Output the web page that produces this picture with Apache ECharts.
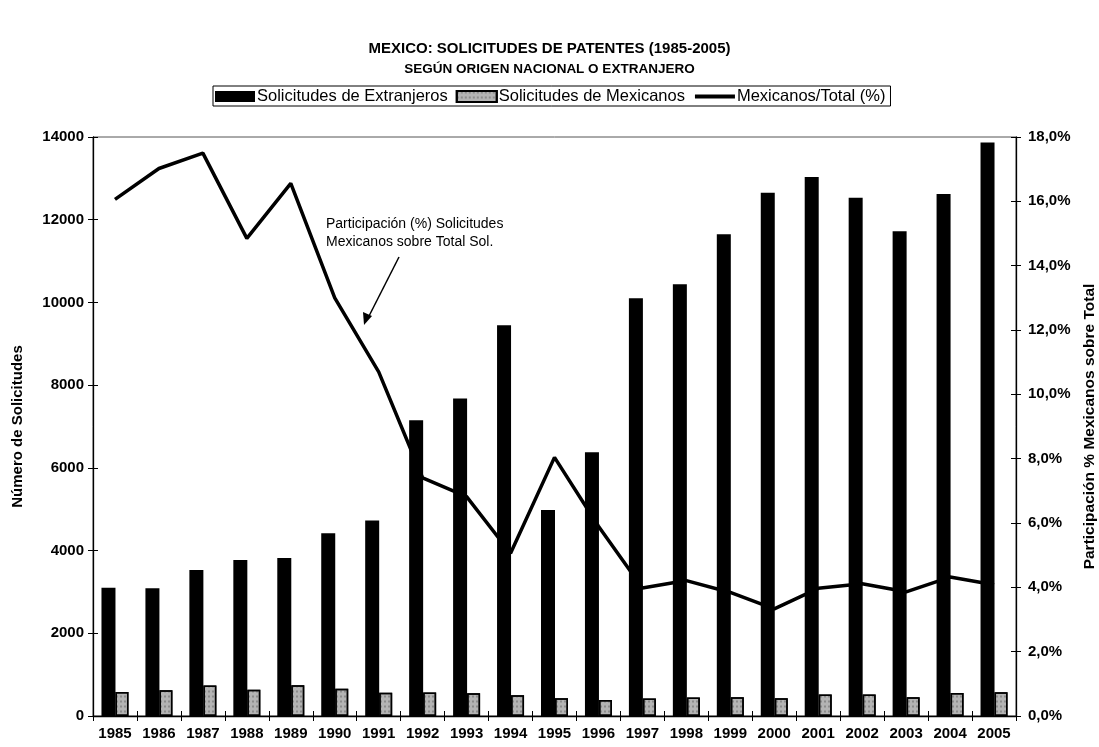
<!DOCTYPE html>
<html>
<head>
<meta charset="utf-8">
<script src="https://cdn.jsdelivr.net/npm/echarts@6/dist/echarts.min.js"></script>
<style>
  html, body { margin: 0; padding: 0; background: #fff; }
  #chart { width: 1099px; height: 747px; }
</style>
</head>
<body>
<div id="chart"></div>
<script>
// Years on the category axis
const years = ['1985','1986','1987','1988','1989','1990','1991','1992','1993','1994','1995',
               '1996','1997','1998','1999','2000','2001','2002','2003','2004','2005'];

// Patent applications filed by foreign applicants
const extranjeros = [3100, 3090, 3530, 3770, 3820, 4420, 4730, 7150, 7680, 9450, 4980,
                     6380, 10100, 10440, 11650, 12650, 13030, 12530, 11720, 12620, 13870];

// Patent applications filed by Mexican applicants
const mexicanos = [580, 625, 740, 635, 745, 660, 565, 568, 553, 500, 432,
                   388, 425, 450, 452, 432, 520, 518, 455, 555, 575];

// Share of Mexican applications in the total (%)
const participacion = [16.06, 17.02, 17.50, 14.85, 16.56, 13.0, 10.7, 7.4, 6.82, 5.06, 8.04,
                       5.9, 3.98, 4.21, 3.84, 3.33, 3.97, 4.11, 3.86, 4.32, 4.08];

// Axis ticks
const leftTicks = { min: 0, max: 14000, interval: 2000 };
const rightTicks = { min: 0, max: 18, interval: 2 };

const FONT = '"Liberation Sans", Arial, sans-serif';
const TICK_FONT = { fontFamily: FONT, fontWeight: 'bold', fontSize: 15, color: '#000' };

const chart = echarts.init(document.getElementById('chart'), null, { renderer: 'canvas' });

chart.setOption({
  backgroundColor: '#ffffff',
  animation: false,
  textStyle: { fontFamily: FONT, color: '#000' },
  title: {
    text: 'MEXICO: SOLICITUDES DE PATENTES (1985-2005)',
    subtext: 'SEGÚN ORIGEN NACIONAL O EXTRANJERO',
    left: 'center',
    top: 36,
    itemGap: 6,
    textStyle: { fontFamily: FONT, fontWeight: 'bold', fontSize: 15, color: '#000' },
    subtextStyle: { fontFamily: FONT, fontWeight: 'bold', fontSize: 13.5, color: '#000' }
  },
  legend: {
    left: 213,
    top: 86,
    padding: [2, 5, 1, 2],
    itemGap: 8,
    itemWidth: 40,
    itemHeight: 11,
    borderColor: '#000',
    borderWidth: 1,
    textStyle: { fontFamily: FONT, fontSize: 16.5, color: '#000', padding: [0, 0, 0, -3] },
    data: [
      { name: 'Solicitudes de Extranjeros', icon: 'rect' },
      { name: 'Solicitudes de Mexicanos', icon: 'rect' },
      { name: 'Mexicanos/Total (%)', itemStyle: { opacity: 0 }, lineStyle: { width: 4 } }
    ]
  },
  grid: {
    left: 93, right: 83, top: 137, bottom: 31,
    outerBoundsMode: 'none',
    containLabel: false,
    show: true, borderColor: '#555', borderWidth: 1
  },
  xAxis: [
    {
      type: 'category',
      data: years,
      axisLine: { lineStyle: { color: '#000', width: 1.3 } },
      axisTick: { show: true, length: 5, lineStyle: { color: '#000' } },
      axisLabel: Object.assign({ margin: 10 }, TICK_FONT)
    },
    {
      // inner half of the crossing ticks on the category axis
      type: 'category',
      data: years,
      position: 'bottom',
      axisLine: { show: false },
      axisTick: { show: true, inside: true, length: 5, lineStyle: { color: '#000' } },
      axisLabel: { show: false }
    }
  ],
  yAxis: [
    {
      type: 'value',
      position: 'left',
      min: leftTicks.min, max: leftTicks.max, interval: leftTicks.interval,
      name: 'Número de Solicitudes',
      nameLocation: 'middle',
      nameGap: 68,
      nameRotate: 90,
      nameTextStyle: { fontFamily: FONT, fontWeight: 'bold', fontSize: 15, color: '#000' },
      axisLine: { show: true, lineStyle: { color: '#000', width: 1.3 } },
      axisTick: { show: true, length: 5, lineStyle: { color: '#000' } },
      axisLabel: Object.assign({ margin: 9, formatter: v => String(v) }, TICK_FONT),
      splitLine: { show: false }
    },
    {
      type: 'value',
      position: 'right',
      min: rightTicks.min, max: rightTicks.max, interval: rightTicks.interval,
      name: 'Participación % Mexicanos sobre Total',
      nameLocation: 'middle',
      nameGap: 66,
      nameRotate: 90,
      nameTextStyle: { fontFamily: FONT, fontWeight: 'bold', fontSize: 15.5, color: '#000' },
      axisLine: { show: true, lineStyle: { color: '#000', width: 1.3 } },
      axisTick: { show: true, length: 5, lineStyle: { color: '#000' } },
      axisLabel: Object.assign({
        margin: 12,
        formatter: v => v.toFixed(1).replace('.', ',') + '%'
      }, TICK_FONT),
      splitLine: { show: false }
    },
    {
      // inner half of the crossing ticks on the left axis
      type: 'value', position: 'left',
      min: leftTicks.min, max: leftTicks.max, interval: leftTicks.interval,
      axisLine: { show: false },
      axisTick: { show: true, inside: true, length: 5, lineStyle: { color: '#000' } },
      axisLabel: { show: false }, splitLine: { show: false }
    },
    {
      // inner half of the crossing ticks on the right axis
      type: 'value', position: 'right',
      min: rightTicks.min, max: rightTicks.max, interval: rightTicks.interval,
      axisLine: { show: false },
      axisTick: { show: true, inside: true, length: 5, lineStyle: { color: '#000' } },
      axisLabel: { show: false }, splitLine: { show: false }
    }
  ],
  series: [
    {
      name: 'Solicitudes de Extranjeros',
      type: 'bar',
      yAxisIndex: 0,
      data: extranjeros,
      barWidth: 14,
      barGap: '0%',
      itemStyle: { color: '#000' }
    },
    {
      name: 'Solicitudes de Mexicanos',
      type: 'bar',
      yAxisIndex: 0,
      data: mexicanos,
      barWidth: 13,
      itemStyle: {
        color: '#b4b4b4',
        borderColor: '#000',
        borderWidth: 1.5,
        decal: {
          symbol: 'rect',
          symbolSize: 0.6,
          dashArrayX: [2, 2],
          dashArrayY: [3, 2],
          color: 'rgba(60,60,60,0.55)',
          rotation: 0
        }
      }
    },
    {
      name: 'Mexicanos/Total (%)',
      type: 'line',
      yAxisIndex: 1,
      data: participacion,
      symbol: 'none',
      lineStyle: { color: '#000', width: 3.5 },
      itemStyle: { color: '#000' },
      z: 5
    }
  ],
  graphic: [
    {
      type: 'text',
      left: 326,
      top: 215,
      style: {
        text: 'Participación (%) Solicitudes\nMexicanos sobre Total Sol.',
        font: '14px ' + FONT,
        fill: '#000',
        lineHeight: 18
      }
    },
    {
      type: 'line',
      shape: { x1: 399, y1: 257, x2: 368, y2: 318 },
      style: { stroke: '#000', lineWidth: 1.5 }
    },
    {
      type: 'polygon',
      shape: { points: [[364, 325], [363, 312], [372, 316]] },
      style: { fill: '#000' }
    }
  ]
});
</script>
</body>
</html>
